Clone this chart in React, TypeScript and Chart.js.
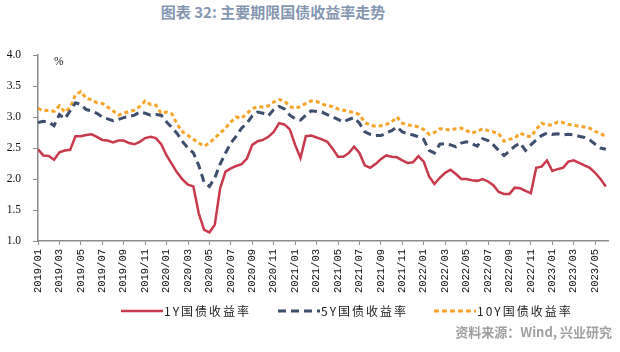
import React, { useEffect, useRef } from "react";
import { Chart, registerables } from "chart.js";

Chart.register(...registerables);

// Half-month sampling, starting 2019/01
const stepMonths = 0.5;

const yield1Y = [
  2.48, 2.38, 2.37, 2.31, 2.43, 2.46, 2.47, 2.69, 2.69, 2.71,
  2.72, 2.68, 2.63, 2.62, 2.59, 2.62, 2.62, 2.58, 2.56, 2.60,
  2.66, 2.68, 2.66, 2.56, 2.38, 2.24, 2.10, 1.99, 1.91, 1.88,
  1.45, 1.18, 1.14, 1.26, 1.85, 2.12, 2.17, 2.21, 2.24, 2.33,
  2.55, 2.61, 2.63, 2.68, 2.76, 2.90, 2.88, 2.80, 2.55, 2.34,
  2.69, 2.70, 2.67, 2.64, 2.60, 2.49, 2.36, 2.36, 2.42, 2.52,
  2.42, 2.22, 2.18, 2.24, 2.32, 2.38, 2.36, 2.35, 2.30, 2.26,
  2.27, 2.37, 2.28, 2.04, 1.92, 2.02, 2.10, 2.15, 2.08, 2.00,
  2.00, 1.98, 1.97, 2.00, 1.96, 1.90, 1.79, 1.76, 1.76, 1.86,
  1.85, 1.81, 1.77, 2.18, 2.20, 2.30, 2.13, 2.16, 2.18, 2.28,
  2.30, 2.26, 2.22, 2.18, 2.10, 2.00, 1.88,
];

const yield5Y = [
  2.91, 2.93, 2.92, 2.86, 3.04, 2.97, 3.10, 3.23, 3.20, 3.12,
  3.10, 3.06, 3.00, 2.97, 2.94, 2.96, 2.99, 3.01, 3.03, 3.08,
  3.06, 3.03, 3.04, 3.03, 2.92, 2.83, 2.73, 2.60, 2.50, 2.42,
  2.22, 1.95, 1.88, 2.02, 2.24, 2.42, 2.58, 2.69, 2.82, 2.90,
  3.02, 3.08, 3.06, 3.02, 3.12, 3.17, 3.13, 3.03, 2.97, 2.95,
  3.03, 3.10, 3.09, 3.08, 3.04, 3.00, 2.96, 2.92, 2.96, 2.99,
  2.90, 2.76, 2.72, 2.70, 2.70, 2.74, 2.78, 2.84, 2.76, 2.73,
  2.71, 2.68, 2.64, 2.46, 2.42, 2.56, 2.57, 2.55, 2.52, 2.58,
  2.60, 2.57, 2.53, 2.65, 2.62, 2.55, 2.46, 2.38, 2.45, 2.53,
  2.58, 2.46, 2.55, 2.63, 2.70, 2.74, 2.72, 2.73, 2.71, 2.72,
  2.71, 2.69, 2.67, 2.63, 2.56, 2.50, 2.48,
];

const yield10Y = [
  3.14, 3.10, 3.11, 3.09, 3.18, 3.08, 3.15, 3.36, 3.41, 3.30,
  3.28, 3.23, 3.22, 3.16, 3.10, 3.03, 3.06, 3.09, 3.11, 3.17,
  3.26, 3.20, 3.19, 3.06, 3.08, 3.05, 2.88, 2.76, 2.70, 2.64,
  2.58, 2.53, 2.58, 2.66, 2.74, 2.82, 2.92, 3.00, 2.98, 3.06,
  3.13, 3.17, 3.16, 3.18, 3.24, 3.28, 3.26, 3.17, 3.14, 3.17,
  3.22, 3.26, 3.25, 3.21, 3.18, 3.17, 3.13, 3.11, 3.09, 3.07,
  3.04, 2.91, 2.87, 2.85, 2.86, 2.88, 2.92, 3.00, 2.90, 2.87,
  2.86, 2.84, 2.80, 2.72, 2.75, 2.81, 2.80, 2.79, 2.81, 2.82,
  2.78, 2.74, 2.77, 2.81, 2.78, 2.76, 2.73, 2.61, 2.64, 2.66,
  2.74, 2.70, 2.68, 2.80, 2.90, 2.87, 2.87, 2.92, 2.91, 2.88,
  2.87, 2.85, 2.84, 2.82, 2.77, 2.73, 2.69,
];

const xTickLabels = [
  "2019/01", "2019/03", "2019/05", "2019/07", "2019/09", "2019/11",
  "2020/01", "2020/03", "2020/05", "2020/07", "2020/09", "2020/11",
  "2021/01", "2021/03", "2021/05", "2021/07", "2021/09", "2021/11",
  "2022/01", "2022/03", "2022/05", "2022/07", "2022/09", "2022/11",
  "2023/01", "2023/03", "2023/05",
];

const yTickValues = [1.0, 1.5, 2.0, 2.5, 3.0, 3.5, 4.0];

const seriesNames = ["1Y国债收益率", "5Y国债收益率", "10Y国债收益率"];
const seriesColors = ["#C8394C", "#3E4F6E", "#F6A52A"];

const monthOffsets = yield1Y.map((_, i) => i * stepMonths);
const toPoints = (arr: number[]) => arr.map((v, i) => ({ x: monthOffsets[i], y: v }));

export default function App() {
  const canvasRef = useRef<HTMLCanvasElement | null>(null);

  useEffect(() => {
    if (!canvasRef.current) return;
    const chart = new Chart(canvasRef.current, {
      type: "line",
      data: {
        datasets: [
          {
            label: seriesNames[0],
            data: toPoints(yield1Y),
            borderColor: seriesColors[0],
            borderWidth: 2.5,
            pointRadius: 0,
            tension: 0,
          },
          {
            label: seriesNames[1],
            data: toPoints(yield5Y),
            borderColor: seriesColors[1],
            borderWidth: 3,
            borderDash: [8, 5],
            pointRadius: 0,
            tension: 0,
          },
          {
            label: seriesNames[2],
            data: toPoints(yield10Y),
            borderColor: seriesColors[2],
            borderWidth: 3,
            borderDash: [4, 3],
            pointRadius: 0,
            tension: 0,
          },
        ],
      },
      options: {
        animation: false,
        responsive: false,
        maintainAspectRatio: false,
        layout: { padding: { top: 55, right: 12, left: 0, bottom: 0 } },
        plugins: { legend: { display: false }, tooltip: { enabled: false }, title: { display: false } },
        scales: {
          x: {
            type: "linear",
            min: 0,
            max: 53.2,
            afterBuildTicks: (scale: any) => {
              scale.ticks = xTickLabels.map((_, i) => ({ value: i * 2 }));
            },
            afterFit: (scale: any) => {
              scale.height = 111;
            },
            ticks: {
              autoSkip: false,
              maxRotation: 90,
              minRotation: 90,
              padding: 4,
              color: "#111",
              font: { family: "Liberation Mono", size: 10.5 },
              callback: (_v: any, i: number) => xTickLabels[i],
            },
            grid: { drawOnChartArea: false, drawTicks: true, tickLength: 4, color: "#8c8c8c", lineWidth: 1 },
            border: { color: "#8c8c8c", width: 1.5 },
          },
          y: {
            min: 1,
            max: 4,
            afterBuildTicks: (scale: any) => {
              scale.ticks = yTickValues.map((v) => ({ value: v }));
            },
            afterFit: (scale: any) => {
              scale.width = 38;
            },
            ticks: {
              padding: 12,
              color: "#111",
              font: { family: "Liberation Serif", size: 11.5 },
              callback: (v: any) => Number(v).toFixed(1),
            },
            grid: { drawOnChartArea: false, drawTicks: true, tickLength: 5, color: "#8c8c8c", lineWidth: 1 },
            border: { color: "#8c8c8c", width: 1.5 },
          },
        },
      },
    });
    return () => chart.destroy();
  }, []);

  const legendItems = [
    { x: 121, dash: "", w: 2.5 },
    { x: 278, dash: "8 5", w: 3 },
    { x: 434, dash: "5 3", w: 3 },
  ];

  return (
    <div style={{ position: "absolute", left: 0, top: 0, width: 620, height: 352, background: "#fff", overflow: "hidden" }}>
      <div
        style={{
          position: "absolute",
          left: 0,
          top: 2,
          width: 546,
          textAlign: "center",
          fontFamily: "'Noto Sans CJK SC', sans-serif",
          fontWeight: 700,
          fontSize: 15,
          color: "#8496B0",
          lineHeight: "20px",
        }}
      >
        图表 32: 主要期限国债收益率走势
      </div>
      <canvas ref={canvasRef} width={620} height={352} style={{ position: "absolute", left: 0, top: 0, width: 620, height: 352 }} />
      <div
        style={{
          position: "absolute",
          left: 54,
          top: 54,
          fontFamily: "'Liberation Serif', serif",
          fontSize: 11.5,
          color: "#111",
          lineHeight: "14px",
        }}
      >
        %
      </div>
      {legendItems.map((it, i) => (
        <div key={i} style={{ position: "absolute", left: it.x, top: 302, height: 18, display: "flex", alignItems: "center" }}>
          <svg width={42} height={6} style={{ display: "block" }}>
            <line x1={0} y1={3} x2={42} y2={3} stroke={seriesColors[i]} strokeWidth={it.w} strokeDasharray={it.dash || undefined} />
          </svg>
          <span
            style={{
              marginLeft: 1,
              fontFamily: "'Noto Sans CJK SC', sans-serif",
              fontSize: 12,
              letterSpacing: 2,
              color: "#222",
              lineHeight: "18px",
            }}
          >
            {seriesNames[i]}
          </span>
        </div>
      ))}
      <div
        style={{
          position: "absolute",
          right: 8,
          top: 322,
          fontFamily: "'Noto Sans CJK SC', sans-serif",
          fontWeight: 700,
          fontSize: 13,
          color: "#a0a0a0",
          lineHeight: "20px",
          whiteSpace: "nowrap",
        }}
      >
        资料来源：Wind, 兴业研究
      </div>
    </div>
  );
}
